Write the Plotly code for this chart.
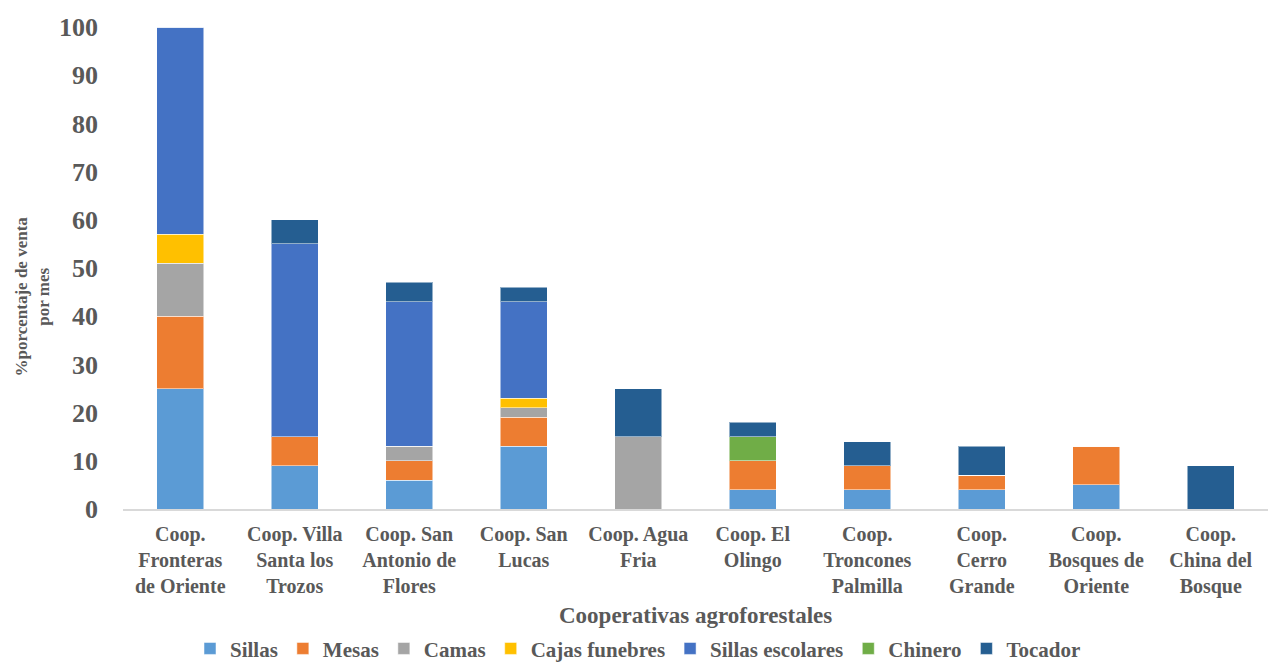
import plotly.graph_objects as go

categories = [
    "Coop.<br>Fronteras<br>de Oriente",
    "Coop. Villa<br>Santa los<br>Trozos",
    "Coop. San<br>Antonio de<br>Flores",
    "Coop. San<br>Lucas",
    "Coop. Agua<br>Fria",
    "Coop. El<br>Olingo",
    "Coop.<br>Troncones<br>Palmilla",
    "Coop.<br>Cerro<br>Grande",
    "Coop.<br>Bosques de<br>Oriente",
    "Coop.<br>China del<br>Bosque",
]

sillas = [25, 9, 6, 13, 0, 4, 4, 4, 5, 0]
mesas = [15, 6, 4, 6, 0, 6, 5, 3, 8, 0]
camas = [11, 0, 3, 2, 15, 0, 0, 0, 0, 0]
cajas_funebres = [6, 0, 0, 2, 0, 0, 0, 0, 0, 0]
sillas_escolares = [43, 40, 30, 20, 0, 0, 0, 0, 0, 0]
chinero = [0, 0, 0, 0, 0, 5, 0, 0, 0, 0]
tocador = [0, 5, 4, 3, 10, 3, 5, 6, 0, 9]

y_ticks = [0, 10, 20, 30, 40, 50, 60, 70, 80, 90, 100]

series = [
    ("Sillas", sillas, "#5B9BD5"),
    ("Mesas", mesas, "#ED7D31"),
    ("Camas", camas, "#A5A5A5"),
    ("Cajas funebres", cajas_funebres, "#FFC000"),
    ("Sillas escolares", sillas_escolares, "#4472C4"),
    ("Chinero", chinero, "#70AD47"),
    ("Tocador", tocador, "#255E91"),
]

font = "Times New Roman, Liberation Serif, DejaVu Serif, serif"

fig = go.Figure()
for name, vals, color in series:
    fig.add_trace(go.Bar(
        name=name, x=categories, y=vals,
        marker=dict(color=color, line=dict(color="rgba(255,255,255,0.5)", width=1)),
    ))

fig.update_layout(
    barmode="stack",
    bargap=0.59,
    width=1260, height=655,
    paper_bgcolor="white", plot_bgcolor="white",
    margin=dict(l=115, r=0, t=19, b=154, autoexpand=False),
    font=dict(family=font, color="#595959"),
    legend=dict(
        orientation="h", xref="container", x=0.5, xanchor="center",
        yref="paper", y=-0.29, yanchor="middle",
        font=dict(family=font, size=21, color="#595959", weight="bold"),
        traceorder="normal",
    ),
    xaxis=dict(
        showline=True, linecolor="#D9D9D9", linewidth=1.5,
        tickfont=dict(family=font, size=20, color="#595959", weight="bold"),
        ticks="", showgrid=False, automargin=False, ticklabelstandoff=6,
    ),
    yaxis=dict(
        range=[0, 100], tickvals=y_ticks, showgrid=False, zeroline=False,
        showline=False, ticks="", automargin=False,
        tickfont=dict(family=font, size=26, color="#595959", weight="bold"),
        ticklabelstandoff=24,
    ),
    annotations=[
        dict(
            text="%porcentaje de venta<br>por mes", textangle=-90,
            xref="paper", yref="paper", x=-0.079, y=0.44,
            xanchor="center", yanchor="middle", showarrow=False,
            font=dict(family=font, size=17, color="#595959", weight="bold"),
        ),
        dict(
            text="Cooperativas agroforestales",
            xref="paper", yref="paper", x=0.5, y=-0.22,
            xanchor="center", yanchor="middle", showarrow=False,
            font=dict(family=font, size=23, color="#595959", weight="bold"),
        ),
    ],
)

fig.write_html("out.html")
